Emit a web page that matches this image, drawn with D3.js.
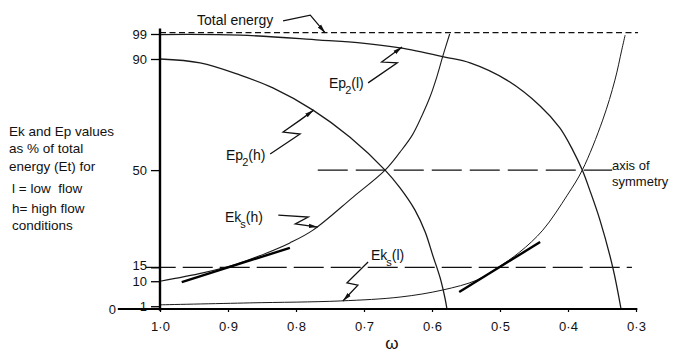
<!DOCTYPE html>
<html>
<head>
<meta charset="utf-8">
<script src="https://cdn.jsdelivr.net/npm/d3@7"></script>
<style>
  html, body { margin: 0; padding: 0; background: #fff; }
  svg { display: block; }
  text { font-family: "Liberation Sans", Arial, sans-serif; fill: #111; }
</style>
</head>
<body>
<svg id="chart" width="679" height="354"></svg>
<script>
// ---------- data ----------
const omegaTicks = [1.0, 0.9, 0.8, 0.7, 0.6, 0.5, 0.4, 0.3];
const omegaTickLabels = ["1·0", "0·9", "0·8", "0·7", "0·6", "0·5", "0·4", "0·3"];
const valueTicks = [0, 1, 10, 15, 50, 90, 99];
const valueTickLabels = ["0", "1", "10", "15", "50", "90", "99"];

// Ep2(h): potential energy, high flow
const epHighW = [1.0, 0.941, 0.882, 0.834, 0.775, 0.721, 0.669, 0.647, 0.625, 0.610, 0.599, 0.588, 0.581, 0.578];
const epHighV = [90, 88.6, 84.2, 79.6, 71.6, 61.9, 50, 43.6, 35.6, 27.7, 19.4, 11.2, 4, 0];
// Eks(h): kinetic energy, high flow
const ekHighW = [1.0, 0.937, 0.887, 0.843, 0.809, 0.775, 0.716, 0.669, 0.647, 0.629, 0.615, 0.603, 0.593, 0.584, 0.574];
const ekHighV = [10, 13, 16.2, 20.2, 23.8, 28.4, 40.3, 50, 56.5, 62.6, 69.5, 76.3, 83.5, 91.1, 99];
// Ep2(l): potential energy, low flow
const epLowW = [1.0, 0.882, 0.765, 0.706, 0.647, 0.581, 0.544, 0.490, 0.441, 0.412, 0.393, 0.379, 0.368, 0.353, 0.334, 0.322];
const epLowV = [98.8, 98.6, 96.8, 95.8, 94, 90.7, 88.6, 82.4, 73.1, 65.2, 57.2, 50, 42.8, 32, 14.8, 0];
// Eks(l): kinetic energy, low flow
const ekLowW = [1.0, 0.868, 0.735, 0.647, 0.585, 0.534, 0.504, 0.471, 0.437, 0.401, 0.379, 0.349, 0.331, 0.321, 0.316];
const ekLowV = [1.5, 2.2, 2.9, 4.3, 6.8, 10.4, 14.8, 20.5, 28.4, 41, 50, 68, 82.4, 93.2, 98.6];

// tangents drawn at the 15 % crossings
const tangentHighW = [0.968, 0.809];
const tangentHighV = [9.7, 22.0];
const tangentLowW = [0.560, 0.441];
const tangentLowV = [6.1, 24.1];

// reference lines: [value, omegaStart, omegaEnd]
const totalEnergyLine = [99.5, 1.0, 0.297];
const symmetryLine = [50, 0.768, 0.335];
const fifteenLine = [15, 1.021, 0.306];

// leader (zig-zag) annotations, in [omega, value]
const leaderTotal = [[0.819, 103.7], [0.779, 105.8], [0.757, 99.4]];
const leaderEpLow = [[0.694, 81.4], [0.651, 88.6], [0.674, 88.9], [0.654, 92.5], [0.644, 94.3]];
const leaderEpHigh = [[0.838, 55.8], [0.794, 63], [0.819, 63.7], [0.794, 68], [0.774, 71.6]];
const leaderEkHigh = [[0.826, 33.8], [0.782, 33.1], [0.801, 30.6], [0.768, 29.5]];
const leaderEkLow = [[0.694, 16.9], [0.725, 9.4], [0.709, 8.6], [0.731, 2.9]];

const yAxisTitle = ["Ek and Ep values", "as % of total", "energy (Et) for", "l = low  flow", "h= high flow", "conditions"];

// ---------- scales ----------
const svg = d3.select("#chart");
const x = d3.scaleLinear().domain([1.0, 0.3]).range([160, 636]);
const y = d3.scaleLinear().domain([0, 99]).range([309, 34]);

const zip = (w, v) => w.map((d, i) => [d, v[i]]);
const line = d3.line().x(d => x(d[0])).y(d => y(d[1]));
const smooth = d3.line().x(d => x(d[0])).y(d => y(d[1])).curve(d3.curveCatmullRom.alpha(0.5));

// arrow marker
svg.append("defs").append("marker")
  .attr("id", "arrow").attr("viewBox", "0 0 10 10")
  .attr("refX", 10).attr("refY", 5)
  .attr("markerWidth", 9).attr("markerHeight", 9)
  .attr("markerUnits", "userSpaceOnUse")
  .attr("orient", "auto")
  .append("path").attr("d", "M0,2.6 L10,5 L0,7.4 Z").attr("fill", "#111");

// ---------- reference lines ----------
function hline(spec, dash, width) {
  svg.append("path")
    .attr("d", line([[spec[1], spec[0]], [spec[2], spec[0]]]))
    .attr("stroke", "#111").attr("stroke-width", width)
    .attr("stroke-dasharray", dash).attr("fill", "none");
}
hline(totalEnergyLine, "6,3.5", 1.3);
hline(symmetryLine, "30,8", 1.2);
hline(fifteenLine, "30,7", 1.2);

// ---------- curves ----------
const curves = [
  { d: zip(epHighW, epHighV), w: 1.3 },
  { d: zip(ekHighW, ekHighV), w: 1.1 },
  { d: zip(epLowW, epLowV), w: 1.3 },
  { d: zip(ekLowW, ekLowV), w: 1.0 }
];
curves.forEach(c => {
  svg.append("path").attr("d", smooth(c.d))
    .attr("fill", "none").attr("stroke", "#1a1a1a").attr("stroke-width", c.w);
});

// tangents
[zip(tangentHighW, tangentHighV), zip(tangentLowW, tangentLowV)].forEach(t => {
  svg.append("path").attr("d", line(t))
    .attr("fill", "none").attr("stroke", "#000").attr("stroke-width", 2.4);
});

// ---------- axes ----------
svg.append("path").attr("d", line([[1.062, 0], [0.298, 0]]))
  .attr("stroke", "#000").attr("stroke-width", 2).attr("fill", "none");
svg.append("path").attr("d", line([[1.0, -0.6], [1.0, 101]]))
  .attr("stroke", "#000").attr("stroke-width", 2.4).attr("fill", "none");

const xAxis = svg.append("g").attr("transform", `translate(0,${y(0)})`)
  .call(d3.axisBottom(x).tickValues(omegaTicks)
    .tickFormat((d, i) => omegaTickLabels[i]).tickSize(3).tickPadding(10));
xAxis.select(".domain").remove();
xAxis.selectAll("line").attr("stroke", "#000").attr("stroke-width", 1.2);
xAxis.selectAll("text").attr("font-size", 13).attr("font-family", "Liberation Sans, Arial, sans-serif").attr("fill", "#111");

const yAxis = svg.append("g").attr("transform", `translate(${x(1.0)},0)`)
  .call(d3.axisLeft(y).tickValues(valueTicks)
    .tickFormat((d, i) => valueTickLabels[i]).tickSize(9).tickPadding(4));
yAxis.select(".domain").remove();
yAxis.selectAll("line").attr("stroke", "#000").attr("stroke-width", 1.3);
yAxis.selectAll("text").attr("font-size", 13).attr("font-family", "Liberation Sans, Arial, sans-serif").attr("fill", "#111");
yAxis.selectAll(".tick").filter(d => d === 15).select("text").attr("y", -2);
yAxis.selectAll(".tick").filter(d => d === 0).select("text").attr("x", -44);
yAxis.selectAll(".tick").filter(d => d === 0).select("line").remove();

// ---------- leaders ----------
[leaderTotal, leaderEpLow, leaderEpHigh, leaderEkHigh, leaderEkLow].forEach(L => {
  svg.append("path").attr("d", line(L))
    .attr("fill", "none").attr("stroke", "#111").attr("stroke-width", 1.3)
    .attr("stroke-linejoin", "miter")
    .attr("marker-end", "url(#arrow)");
});

// ---------- labels ----------
svg.append("text").attr("x", 197).attr("y", 25).attr("font-size", 14).text("Total energy");

function energyLabel(px, py, main, sub, tail) {
  const t = svg.append("text").attr("x", px).attr("y", py).attr("font-size", 14);
  t.append("tspan").text(main);
  t.append("tspan").attr("dx", -1).attr("dy", 6).attr("font-size", 11).text(sub);
  t.append("tspan").attr("dx", 0).attr("dy", -6).text(tail);
}
energyLabel(329, 88, "Ep", "2", "(l)");
energyLabel(226, 160, "Ep", "2", "(h)");
energyLabel(225, 222, "Ek", "s", "(h)");
energyLabel(371, 260, "Ek", "s", "(l)");

svg.append("text").attr("x", 612).attr("y", 170).attr("font-size", 13).text("axis of");
svg.append("text").attr("x", 612).attr("y", 186).attr("font-size", 13).text("symmetry");

const titleY = [136, 153, 171, 193, 213, 230];
const titleX = [9, 9, 9, 12, 12, 12];
yAxisTitle.forEach((s, i) => {
  svg.append("text").attr("x", titleX[i]).attr("y", titleY[i]).attr("font-size", 13.5)
    .attr("xml:space", "preserve").style("white-space", "pre").text(s);
});

svg.append("text").attr("x", 392).attr("y", 349).attr("font-size", 17)
  .attr("text-anchor", "middle").text("ω");
</script>
</body>
</html>
